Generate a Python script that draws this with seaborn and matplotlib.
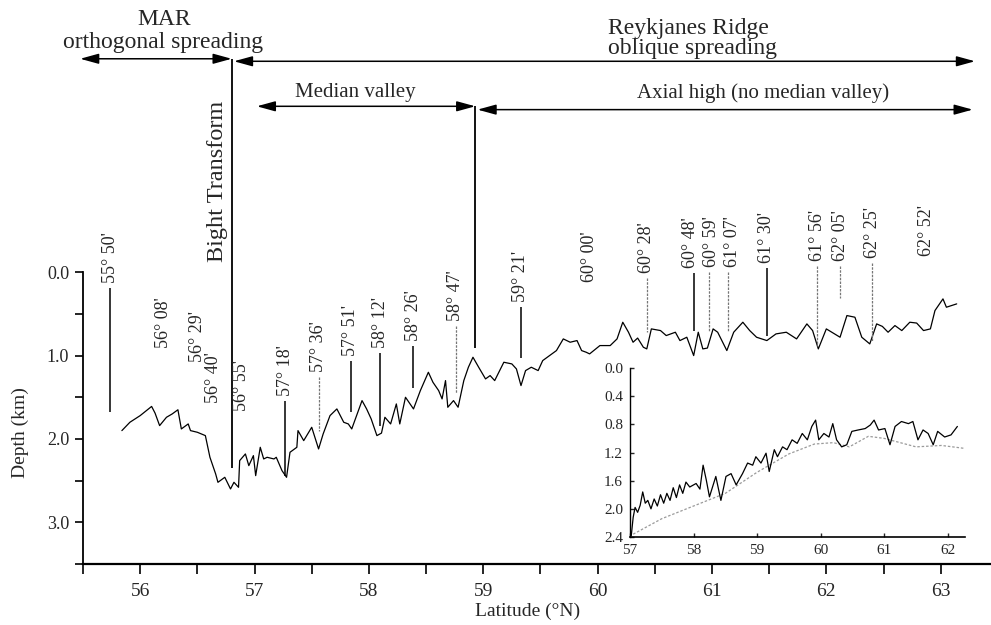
import matplotlib
matplotlib.use("Agg")
import matplotlib.pyplot as plt
import matplotlib.ticker as mticker
import seaborn as sns

# ---------------- data ----------------
# along-axis bathymetric profile (latitude °N, depth km)
profile_lat = [55.84, 55.91, 56.00, 56.10, 56.13, 56.17, 56.23, 56.28, 56.33, 56.36, 56.42, 56.44,
               56.50, 56.57, 56.61, 56.66, 56.68, 56.74, 56.79, 56.82, 56.86, 56.87, 56.92, 56.95,
               56.99, 57.01, 57.05, 57.08, 57.11, 57.17, 57.19, 57.24, 57.28, 57.31, 57.37, 57.38,
               57.43, 57.50, 57.56, 57.60, 57.66, 57.72, 57.78, 57.82, 57.85, 57.94, 57.98, 58.02,
               58.07, 58.11, 58.14, 58.19, 58.24, 58.27, 58.32, 58.39, 58.45, 58.52, 58.56, 58.61,
               58.64, 58.67, 58.69, 58.74, 58.78, 58.83, 58.87, 58.91, 58.96, 59.02, 59.06, 59.10,
               59.18, 59.25, 59.29, 59.33, 59.37, 59.42, 59.48, 59.52, 59.58, 59.64, 59.70, 59.76,
               59.82, 59.86, 59.90, 59.93, 60.02, 60.11, 60.17, 60.22, 60.27, 60.31, 60.35, 60.40,
               60.43, 60.47, 60.55, 60.60, 60.68, 60.72, 60.78, 60.84, 60.88, 60.92, 60.96, 61.01,
               61.05, 61.13, 61.19, 61.27, 61.33, 61.39, 61.48, 61.56, 61.65, 61.74, 61.83, 61.88,
               61.93, 62.00, 62.12, 62.18, 62.25, 62.31, 62.38, 62.44, 62.49, 62.54, 62.60, 62.66,
               62.73, 62.79, 62.85, 62.91, 62.95, 63.02, 63.05, 63.14]
profile_depth = [1.90, 1.80, 1.72, 1.61, 1.69, 1.84, 1.74, 1.70, 1.65, 1.88, 1.82, 1.90,
                 1.92, 1.96, 2.22, 2.42, 2.52, 2.46, 2.60, 2.52, 2.58, 2.26, 2.18, 2.32,
                 2.20, 2.44, 2.10, 2.24, 2.22, 2.24, 2.22, 2.38, 2.46, 2.16, 2.10, 1.90,
                 2.02, 1.86, 2.12, 1.94, 1.72, 1.64, 1.80, 1.82, 1.88, 1.54, 1.64, 1.76,
                 1.96, 1.93, 1.74, 1.82, 1.58, 1.82, 1.50, 1.64, 1.42, 1.20, 1.32, 1.42,
                 1.52, 1.30, 1.62, 1.54, 1.62, 1.30, 1.14, 1.02, 1.14, 1.28, 1.24, 1.30,
                 1.08, 1.10, 1.16, 1.36, 1.18, 1.14, 1.18, 1.06, 1.00, 0.94, 0.80, 0.84,
                 0.82, 0.94, 0.96, 0.98, 0.88, 0.88, 0.80, 0.60, 0.72, 0.84, 0.79, 0.90,
                 0.92, 0.68, 0.70, 0.76, 0.72, 0.82, 0.78, 1.00, 0.72, 0.92, 0.91, 0.68,
                 0.72, 0.94, 0.72, 0.60, 0.70, 0.78, 0.82, 0.74, 0.72, 0.80, 0.62, 0.70,
                 0.92, 0.68, 0.78, 0.52, 0.54, 0.78, 0.86, 0.62, 0.65, 0.72, 0.64, 0.70,
                 0.60, 0.61, 0.70, 0.68, 0.46, 0.32, 0.42, 0.38]

# sampling-site labels: latitude of the mark, label, depth where its line ends (None = no line)
site_labels = ["55° 50'", "56° 08'", "56° 29'", "56° 40'", "56° 55'", "57° 18'", "57° 36'",
               "57° 51'", "58° 12'", "58° 26'", "58° 47'", "59° 21'", "60° 00'", "60° 28'",
               "60° 48'", "60° 59'", "61° 07'", "61° 30'", "61° 56'", "62° 05'", "62° 25'",
               "62° 52'"]
site_lat = [55.74, 56.20, 56.50, 56.64, 56.89, 57.27, 57.56, 57.84, 58.10, 58.39, 58.76,
            59.33, 59.93, 60.43, 60.84, 60.97, 61.14, 61.48, 61.92, 62.12, 62.40, 62.88]
site_line_end = [1.68, None, None, None, None, 2.44, 1.90, 1.68, 1.84, 1.39, 1.45,
                 1.03, None, 0.72, 0.70, 0.70, 0.72, 0.76, 0.88, 0.31, 0.82, None]

# structural boundaries (latitude °N)
bight_transform_lat = 56.80
median_valley_end_lat = 58.93

# inset: profile and its smooth lower envelope
inset_lat = [57.02, 57.05, 57.08, 57.12, 57.16, 57.20, 57.24, 57.28, 57.33, 57.38, 57.43, 57.48,
             57.53, 57.58, 57.63, 57.68, 57.73, 57.78, 57.83, 57.88, 57.94, 58.04, 58.10, 58.15,
             58.20, 58.25, 58.35, 58.43, 58.51, 58.59, 58.67, 58.77, 58.85, 58.93, 58.98, 59.06,
             59.14, 59.19, 59.27, 59.32, 59.40, 59.47, 59.55, 59.63, 59.71, 59.79, 59.86, 59.92,
             59.97, 60.05, 60.13, 60.19, 60.25, 60.33, 60.41, 60.49, 60.59, 60.70, 60.78, 60.84,
             60.91, 61.01, 61.09, 61.17, 61.27, 61.38, 61.45, 61.53, 61.61, 61.69, 61.77, 61.84,
             61.95, 62.05, 62.15]
inset_depth = [2.38, 2.12, 1.98, 2.05, 1.95, 1.76, 1.92, 1.88, 2.00, 1.86, 1.96, 1.80,
               1.92, 1.78, 1.88, 1.70, 1.84, 1.66, 1.78, 1.62, 1.69, 1.64, 1.72, 1.38,
               1.59, 1.83, 1.54, 1.88, 1.54, 1.50, 1.66, 1.50, 1.35, 1.38, 1.26, 1.35,
               1.21, 1.47, 1.16, 1.26, 1.12, 1.16, 1.02, 1.07, 0.93, 1.02, 0.83, 0.74,
               1.02, 0.93, 0.98, 0.79, 1.02, 1.12, 1.09, 0.90, 0.88, 0.86, 0.81, 0.74,
               0.88, 0.86, 1.09, 0.83, 0.76, 0.79, 0.76, 1.02, 0.88, 0.93, 1.09, 0.90,
               0.98, 0.95, 0.83]
envelope_lat = [57.05, 57.5, 58.0, 58.5, 59.0, 59.5, 59.9, 60.2, 60.45, 60.75, 61.0, 61.5, 61.9, 62.25]
envelope_depth = [2.36, 2.14, 1.96, 1.78, 1.48, 1.22, 1.08, 1.06, 1.12, 0.97, 1.00, 1.12, 1.10, 1.14]

main_xticks = [56, 57, 58, 59, 60, 61, 62, 63]
main_yticks = [0.0, 1.0, 2.0, 3.0]
inset_xticks = [57, 58, 59, 60, 61, 62]
inset_yticks = [0.0, 0.4, 0.8, 1.2, 1.6, 2.0, 2.4]

# ---------------- style ----------------
sns.set_style("ticks")
plt.rcParams['font.family'] = ['Liberation Serif', 'DejaVu Serif']
plt.rcParams['axes.edgecolor'] = 'black'
faint_sites = {"57° 36'", "58° 47'", "60° 28'", "60° 59'", "61° 07'", "61° 56'", "62° 05'", "62° 25'"}
# depth of the lower end of each rotated label (layout)
label_bottom = {"55° 50'": 0.13, "56° 08'": 0.91, "56° 29'": 1.08, "56° 40'": 1.57,
                "56° 55'": 1.66, "57° 18'": 1.48, "57° 36'": 1.20, "57° 51'": 1.00,
                "58° 12'": 0.91, "58° 26'": 0.82, "58° 47'": 0.58, "59° 21'": 0.36,
                "60° 00'": 0.12, "60° 28'": 0.01, "60° 48'": -0.05, "60° 59'": -0.06,
                "61° 07'": -0.06, "61° 30'": -0.11, "61° 56'": -0.14, "62° 05'": -0.14,
                "62° 25'": -0.17, "62° 52'": -0.20}
# small horizontal nudges (degrees) for crowded labels
label_nudge = {"60° 48'": -0.03, "60° 59'": 0.025, "61° 07'": 0.04}

fig = plt.figure(figsize=(9.91, 6.25), dpi=100)
ax = fig.add_axes([83 / 991, 1 - 564 / 625, 908 / 991, 564 / 625])
ax.set_facecolor('none')

sns.lineplot(x=profile_lat, y=profile_depth, ax=ax, sort=False, estimator=None,
             color='black', linewidth=0.9)

ax.set_xlim(55.5, 63.44)
ax.set_ylim(3.5, -3.265)

for s in ['top', 'right']:
    ax.spines[s].set_visible(False)
ax.spines['left'].set_bounds(0, 3.5)
ax.spines['left'].set_linewidth(1.3)
ax.spines['bottom'].set_linewidth(1.6)

ax.xaxis.set_major_locator(mticker.FixedLocator(main_xticks))
ax.xaxis.set_minor_locator(mticker.FixedLocator([t + 0.5 for t in [55] + main_xticks]))
ax.yaxis.set_major_locator(mticker.FixedLocator(main_yticks))
ax.yaxis.set_minor_locator(mticker.FixedLocator([t + 0.5 for t in main_yticks]))
ax.yaxis.set_major_formatter(mticker.FormatStrFormatter('%.1f'))
ax.tick_params(axis='both', which='both', direction='out', width=1.2, color='black')
ax.tick_params(axis='x', which='both', length=7, pad=7, labelsize=14)
ax.tick_params(axis='y', which='both', length=6, pad=4, labelsize=13)

ax.set_xlabel("Latitude (°N)", fontsize=14)
ax.xaxis.set_label_coords(0.49, -0.068)
ax.set_ylabel("Depth (km)", fontsize=14)
ax.yaxis.set_label_coords(-0.06, (3.5 - 1.92) / 6.765)

# site labels and lines
for lab, x, end in zip(site_labels, site_lat, site_line_end):
    faint = lab in faint_sites
    lb = label_bottom[lab]
    ax.text(x + label_nudge.get(lab, 0.0), lb, lab, rotation=90, ha='center', va='bottom',
            fontsize=13, clip_on=False)
    if end is not None:
        ax.vlines(x, lb + 0.06, end,
                  colors='#777777' if faint else 'black',
                  linewidth=0.9 if faint else 1.1,
                  linestyles=(0, (2, 1)) if faint else 'solid')

# structural boundaries
ax.vlines(bight_transform_lat, -2.56, 2.35, colors='black', linewidth=1.3)
ax.vlines(median_valley_end_lat, -1.99, 0.91, colors='black', linewidth=1.3)
ax.text(bight_transform_lat - 0.125, -0.12, "Bight Transform", rotation=90, ha='center',
        va='bottom', fontsize=17.5)

arrow_kw = dict(arrowstyle='<|-|>,head_length=0.8,head_width=0.22', color='black', lw=1.1,
                shrinkA=0, shrinkB=0, mutation_scale=14)
ax.annotate('', xy=(bight_transform_lat, -2.56), xytext=(55.475, -2.56),
            arrowprops=arrow_kw, annotation_clip=False)
ax.annotate('', xy=(63.30, -2.53), xytext=(bight_transform_lat + 0.02, -2.53),
            arrowprops=arrow_kw, annotation_clip=False)
ax.annotate('', xy=(median_valley_end_lat, -1.99), xytext=(57.02, -1.99),
            arrowprops=arrow_kw, annotation_clip=False)
ax.annotate('', xy=(63.28, -1.95), xytext=(median_valley_end_lat + 0.02, -1.95),
            arrowprops=arrow_kw, annotation_clip=False)

ax.text(56.21, -3.03, "MAR", ha='center', va='center', fontsize=17)
ax.text(56.20, -2.755, "orthogonal spreading", ha='center', va='center', fontsize=17)
ax.text(60.79, -2.92, "Reykjanes Ridge", ha='center', va='center', fontsize=17)
ax.text(60.83, -2.68, "oblique spreading", ha='center', va='center', fontsize=17)
ax.text(57.88, -2.155, "Median valley", ha='center', va='center', fontsize=15)
ax.text(61.45, -2.15, "Axial high (no median valley)", ha='center', va='center', fontsize=15)

# ---------------- inset ----------------
ax2 = fig.add_axes([630 / 991, 1 - 537 / 625, 335 / 991, (537 - 368) / 625])
ax2.set_facecolor('none')
sns.lineplot(x=envelope_lat, y=envelope_depth, ax=ax2, sort=False, estimator=None,
             color='#9a9a9a', linewidth=0.9, linestyle=(0, (2, 1.5)))
sns.lineplot(x=inset_lat, y=inset_depth, ax=ax2, sort=False, estimator=None,
             color='black', linewidth=0.9)
ax2.set_xlim(57.0, 62.27)
ax2.set_ylim(2.4, 0.0)
for s in ['top', 'right']:
    ax2.spines[s].set_visible(False)
ax2.spines['left'].set_linewidth(1.0)
ax2.spines['bottom'].set_linewidth(1.2)
ax2.xaxis.set_major_locator(mticker.FixedLocator(inset_xticks))
ax2.yaxis.set_major_locator(mticker.FixedLocator(inset_yticks))
ax2.yaxis.set_major_formatter(mticker.FormatStrFormatter('%.1f'))
ax2.tick_params(axis='both', direction='in', length=3, width=1.0, labelsize=11, pad=5)

fig.savefig("out.png", dpi=100)
